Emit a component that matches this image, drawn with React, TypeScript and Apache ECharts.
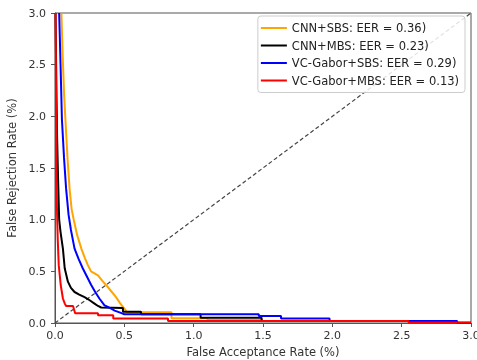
import React, { useEffect, useRef } from "react";
import * as echarts from "echarts";

const seriesNames = [
  "CNN+SBS: EER = 0.36)",
  "CNN+MBS: EER = 0.23)",
  "VC-Gabor+SBS: EER = 0.29)",
  "VC-Gabor+MBS: EER = 0.13)",
];
const seriesColors = ["#FFA500", "#000000", "#0000FF", "#FF0000"];

const cnnSbs: number[][] = [
  [0.046, 3.0], [0.055, 2.6], [0.066, 2.2], [0.075, 1.97], [0.09, 1.6], [0.105, 1.3],
  [0.12, 1.1], [0.135, 1.0], [0.16, 0.85], [0.19, 0.72], [0.215, 0.63], [0.237, 0.56],
  [0.26, 0.5], [0.31, 0.46], [0.34, 0.41], [0.38, 0.35], [0.41, 0.3], [0.44, 0.25],
  [0.47, 0.19], [0.5, 0.14], [0.52, 0.104], [0.84, 0.104], [0.84, 0.045], [1.1, 0.045],
  [1.1, 0.03], [1.5, 0.03],
];
const cnnMbs: number[][] = [
  [0.004, 3.0], [0.008, 2.5], [0.015, 1.8], [0.022, 1.4], [0.03, 1.0], [0.04, 0.88],
  [0.057, 0.72], [0.07, 0.53], [0.093, 0.4], [0.115, 0.34], [0.141, 0.3], [0.175, 0.275],
  [0.213, 0.25], [0.25, 0.22], [0.285, 0.188], [0.31, 0.165], [0.333, 0.15], [0.49, 0.145],
  [0.49, 0.11], [0.62, 0.11], [0.62, 0.085], [1.05, 0.085], [1.05, 0.052], [1.49, 0.052],
  [1.49, 0.02], [1.98, 0.02],
];
const gaborSbs: number[][] = [
  [0.03, 3.0], [0.04, 2.5], [0.05, 1.97], [0.065, 1.6], [0.08, 1.3], [0.098, 1.046],
  [0.115, 0.9], [0.141, 0.72], [0.17, 0.62], [0.2, 0.53], [0.23, 0.45], [0.26, 0.37],
  [0.29, 0.3], [0.32, 0.237], [0.357, 0.17], [0.39, 0.15], [0.43, 0.12], [0.47, 0.1],
  [0.5, 0.085], [1.47, 0.085], [1.47, 0.068], [1.63, 0.068], [1.63, 0.043], [1.98, 0.043],
  [1.98, 0.02], [2.9, 0.02], [2.9, 0.003], [3.0, 0.003],
];
const gaborMbs: number[][] = [
  [0.004, 3.0], [0.006, 2.6], [0.008, 2.0], [0.01, 1.5], [0.015, 1.05], [0.02, 0.8],
  [0.027, 0.56], [0.041, 0.37], [0.057, 0.237], [0.07, 0.19], [0.08, 0.165], [0.13, 0.165],
  [0.145, 0.094], [0.31, 0.094], [0.31, 0.075], [0.42, 0.075], [0.42, 0.043], [0.815, 0.043],
  [0.815, 0.02], [2.55, 0.02], [2.55, 0.006], [3.0, 0.006],
];
const diagonal: number[][] = [[0, 0], [3, 3]];
const seriesData = [cnnSbs, cnnMbs, gaborSbs, gaborMbs];

export default function App() {
  const ref = useRef<HTMLDivElement>(null);
  useEffect(() => {
    if (!ref.current) return;
    const chart = echarts.init(ref.current, undefined, { renderer: "svg" });
    const axisCommon = {
      type: "value" as const,
      min: 0,
      max: 3,
      interval: 0.5,
      nameLocation: "middle" as const,
      nameTextStyle: { fontSize: 11.5, color: "#333", fontFamily: "DejaVu Sans" },
      axisLine: { show: true, lineStyle: { color: "#555", width: 1 } },
      axisTick: { show: true, inside: false, length: 4, lineStyle: { color: "#555" } },
      splitLine: { show: false },
    };
    chart.setOption({
      animation: false,
      textStyle: { fontFamily: "DejaVu Sans" },
      grid: {
        left: 55, right: 6, top: 13, bottom: 37,
        outerBoundsMode: "none",
        containLabel: false,
        show: true, borderColor: "#555", borderWidth: 1,
      },
      xAxis: {
        ...axisCommon,
        name: "False Acceptance Rate (%)",
        nameGap: 22,
        axisLabel: { formatter: (v: number) => v.toFixed(1), margin: 7, fontSize: 11, color: "#333" },
      },
      yAxis: {
        ...axisCommon,
        name: "False Rejection Rate (%)",
        nameGap: 34,
        axisLabel: { formatter: (v: number) => v.toFixed(1), margin: 9, fontSize: 11, color: "#333" },
      },
      legend: {
        orient: "vertical",
        right: 12,
        top: 16,
        data: seriesNames,
        icon: "rect",
        itemWidth: 26,
        itemHeight: 2,
        itemGap: 3.5,
        textStyle: { fontSize: 11.5, color: "#222", lineHeight: 14, fontFamily: "DejaVu Sans" },
        borderColor: "#ccc",
        borderWidth: 1,
        borderRadius: 3,
        padding: [5, 6, 5, 3],
        backgroundColor: "rgba(255,255,255,0.85)",
      },
      series: [
        {
          type: "line",
          name: "diag",
          data: diagonal,
          showSymbol: false,
          symbol: "none",
          silent: true,
          lineStyle: { color: "#444", width: 1.2, type: [4, 2.5] },
          z: 1,
        },
        ...seriesData.map((d, i) => ({
          type: "line",
          name: seriesNames[i],
          data: d,
          showSymbol: false,
          symbol: "none",
          clip: true,
          color: seriesColors[i],
          lineStyle: { color: seriesColors[i], width: 2 },
          z: 2 + i,
        })),
      ],
    });
    return () => chart.dispose();
  }, []);
  return <div ref={ref} style={{ position: "fixed", left: 0, top: 0, width: 477, height: 360 }} />;
}
